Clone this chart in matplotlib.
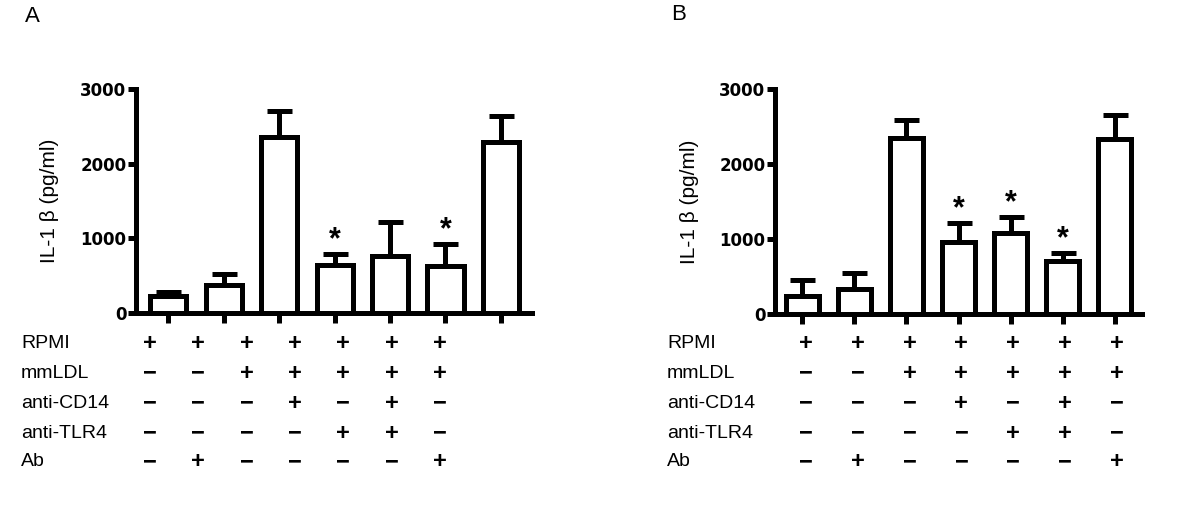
import numpy as np
import matplotlib
matplotlib.use('Agg')
import matplotlib.pyplot as plt

plt.rcParams['font.family'] = ['Liberation Sans', 'DejaVu Sans']

# IL-1 beta means and upper error (SEM)
mean_a = [230, 370, 2355, 640, 770, 635, 2290]
err_a = [55, 155, 345, 150, 450, 290, 355]
star_a = [False, False, False, True, False, True, False]

mean_b = [235, 335, 2350, 960, 1085, 705, 2330]
err_b = [225, 215, 235, 255, 210, 110, 320]
star_b = [False, False, False, True, True, True, False]

row_names = ['RPMI', 'mmLDL', 'anti-CD14', 'anti-TLR4', 'Ab']
signs = [
    ['+', '+', '+', '+', '+', '+', '+'],
    ['-', '-', '+', '+', '+', '+', '+'],
    ['-', '-', '-', '+', '-', '+', '-'],
    ['-', '-', '-', '-', '+', '+', '-'],
    ['-', '+', '-', '-', '-', '-', '+'],
]

W, H = 1200, 515
fig = plt.figure(figsize=(12, 5.15), dpi=100)
LW = 3.6


def panel(rect, means, errs, stars, bw, xl, ylab_x):
    ax = fig.add_axes(rect)
    x = np.arange(len(means))
    ax.bar(x, means, width=bw, color='white', edgecolor='black',
           linewidth=LW, zorder=3)
    ax.errorbar(x, means, yerr=[np.zeros(len(means)), errs], fmt='none',
                ecolor='black', elinewidth=LW, capsize=9, capthick=LW,
                zorder=2)
    for xi, m, e, s in zip(x, means, errs, stars):
        if s:
            ax.annotate('*', (xi, m + e), xytext=(0, -1),
                        textcoords='offset points', ha='center',
                        va='bottom', fontsize=22, fontweight='bold')
    ax.set_xlim(*xl)
    ax.set_ylim(0, 3000)
    ax.set_yticks([0, 1000, 2000, 3000])
    ax.set_xticks(x)
    ax.set_xticklabels([])
    for s in ['top', 'right']:
        ax.spines[s].set_visible(False)
    for s in ['left', 'bottom']:
        ax.spines[s].set_linewidth(LW)
    ax.tick_params(axis='y', length=6, width=LW, pad=1)
    ax.tick_params(axis='x', length=7, width=LW)
    for t in ax.get_yticklabels():
        t.set_fontweight('bold')
        t.set_fontfamily('DejaVu Sans')
        t.set_fontsize(12)
    ax.set_ylabel('IL-1 β (pg/ml)', fontsize=15)
    ax.yaxis.set_label_coords(ylab_x, 0.5)
    return ax


panel([136 / W, 1 - 313 / H, 396 / W, 224 / H], mean_a, err_a, star_a,
      0.65, (-0.58, 6.56), -0.195)
panel([775 / W, 1 - 314 / H, 367 / W, 225 / H], mean_b, err_b, star_b,
      0.63, (-0.52, 6.52), -0.208)

fig.text(25 / W, 1 - 16 / H, 'A', fontsize=16, va='center', ha='left')
fig.text(671 / W, 1 - 15 / H, 'B', fontsize=16, va='center', ha='left')

row_y = [343, 373, 403, 433, 462]
for lab_x, s0, step in [(21, 150, 48.3), (667, 806, 51.8)]:
    for r, name in enumerate(row_names):
        fig.text(lab_x / W, 1 - row_y[r] / H, name, fontsize=14,
                 va='center', ha='left')
        for c, sg in enumerate(signs[r]):
            ch = '+' if sg == '+' else '−'
            fig.text((s0 + c * step) / W, 1 - row_y[r] / H, ch,
                     fontsize=17, fontweight='bold', va='center',
                     ha='center')

fig.savefig('out.png', dpi=100)
